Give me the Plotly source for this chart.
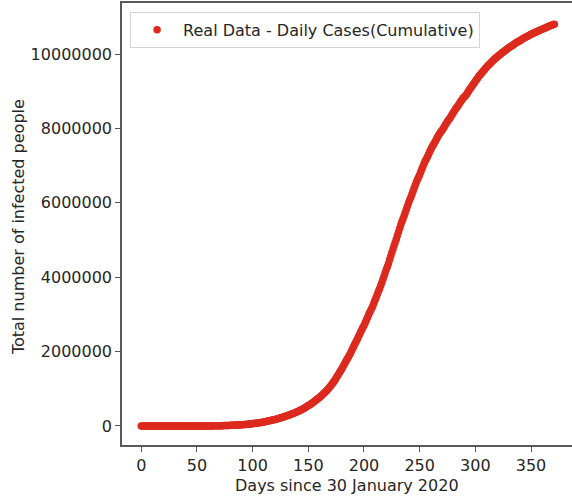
import plotly.graph_objects as go

# India: cumulative confirmed COVID-19 cases, one value per day from 30 Jan 2020
jan_2020 = [1, 1]
feb_2020 = [1, 2] + [3] * 27
mar_2020 = [3, 5, 6, 28, 30, 31, 34, 39, 48, 63, 71, 81, 91, 102, 112, 126, 146, 171, 198, 256,
            334, 403, 497, 571, 657, 730, 883, 1019, 1139, 1326, 1635]
apr_2020 = [2059, 2545, 3105, 3684, 4293, 4778, 5351, 5916, 6725, 7598, 8446, 9205, 10453, 11487,
            12322, 13430, 14352, 15722, 17615, 18539, 20080, 21370, 23077, 24530, 26283, 27890,
            29451, 31324, 33062, 34863]
may_2020 = [37257, 39699, 42505, 46437, 49400, 52987, 56351, 59662, 62939, 67152, 70756, 74281,
            78003, 81970, 85940, 90927, 95698, 100328, 106750, 112359, 118447, 124794, 131868,
            138845, 145380, 151767, 158333, 165799, 173763, 182143, 190535]
jun_2020 = [198706, 207615, 216919, 226770, 236657, 246628, 256611, 265928, 276583, 286579,
            297535, 308993, 320922, 332424, 343091, 354065, 366946, 380532, 395048, 410461,
            425282, 440215, 456183, 473105, 490401, 508953, 528859, 548318, 566840, 585493]
jul_2020 = [604641, 625544, 648315, 673165, 697413, 719665, 742417, 767296, 793802, 820916,
            849553, 878254, 906752, 936181, 968876, 1003832, 1038716, 1077618, 1118043, 1155191,
            1192915, 1238635, 1287945, 1336861, 1385522, 1435453, 1483156, 1531669, 1583792,
            1638870, 1695988]
aug_2020 = [1750723, 1803695, 1855745, 1908254, 1964536, 2027074, 2088611, 2153010, 2215074,
            2268675, 2329638, 2396637, 2461190, 2526192, 2589682, 2647663, 2702742, 2767273,
            2836925, 2905823, 2975701, 3044940, 3106348, 3167323, 3234474, 3310234, 3387500,
            3463972, 3542733, 3621245, 3691166]
sep_2020 = [3769523, 3853406, 3936747, 4023179, 4113811, 4204613, 4280422, 4370128, 4465863,
            4562414, 4659984, 4754356, 4846427, 4930236, 5020359, 5118253, 5214677, 5308014,
            5400619, 5487580, 5562663, 5646010, 5732518, 5818570, 5903932, 5992532, 6074702,
            6145291, 6225763, 6312584]
oct_2020 = [6394068, 6473544, 6549373, 6623815, 6685082, 6757131, 6835655, 6906151, 6979423,
            7053806, 7120538, 7175880, 7239389, 7307097, 7370468, 7432680, 7494551, 7550273,
            7597063, 7651107, 7706946, 7761312, 7814682, 7864811, 7909959, 7946429, 7990322,
            8040203, 8088851, 8137119, 8184082]
nov_2020 = [8229313, 8267623, 8313876, 8364086, 8411724, 8462080, 8507754, 8553657, 8591730,
            8636011, 8683916, 8728795, 8773479, 8814579, 8845127, 8874290, 8912907, 8958483,
            9004365, 9050597, 9095806, 9139865, 9177840, 9222216, 9266705, 9309787, 9351109,
            9392919, 9431691, 9462809]
dec_2020 = [9499413, 9534964, 9571559, 9608211, 9644222, 9677203, 9703770, 9735850, 9767371,
            9796769, 9826775, 9857029, 9884100, 9906165, 9932547, 9956557, 9979447, 10004599,
            10031223, 10055560, 10075116, 10099066, 10123778, 10146845, 10169118, 10187850,
            10207871, 10224303, 10244852, 10266674, 10286709]
jan_2021 = [10305788, 10323965, 10340469, 10356844, 10374932, 10395278, 10413417, 10432005,
            10450284, 10466595, 10479179, 10495147, 10512093, 10527683, 10542841, 10557985,
            10571773, 10581823, 10595660, 10610883, 10625428, 10639684, 10654533, 10667736,
            10676838, 10689527, 10701193, 10720048, 10733130, 10746183, 10757610]
feb_2021 = [10766245, 10777284, 10790183, 10802591]

total_cases = (jan_2020 + feb_2020 + mar_2020 + apr_2020 + may_2020 + jun_2020 + jul_2020
               + aug_2020 + sep_2020 + oct_2020 + nov_2020 + dec_2020 + jan_2021 + feb_2021)
days = list(range(len(total_cases)))

x_ticks = [0, 50, 100, 150, 200, 250, 300, 350]
y_ticks = [0, 2000000, 4000000, 6000000, 8000000, 10000000]

FONT = "DejaVu Sans"
RED = "#dd2a1e"
SPINE = "#5a5a5a"
TEXT = "#262626"

fig = go.Figure()
fig.add_trace(go.Scatter(
    x=days, y=total_cases, mode="markers",
    name="Real Data - Daily Cases(Cumulative)",
    marker=dict(color=RED, size=7.5, line=dict(width=0)),
))

axis_common = dict(
    showgrid=False, zeroline=False, showline=True, linecolor=SPINE, linewidth=1.5,
    ticks="outside", ticklen=5, tickwidth=1.2, tickcolor=SPINE,
    tickfont=dict(family=FONT, size=16, color=TEXT),
)

fig.update_layout(
    width=572, height=498,
    margin=dict(l=122, r=0, t=3, b=53),
    paper_bgcolor="white", plot_bgcolor="white",
    font=dict(family=FONT, size=16, color=TEXT),
    xaxis=dict(range=[-17.3, 386.8], tickvals=x_ticks, mirror=True, **axis_common),
    yaxis=dict(range=[-511000, 11371000], tickvals=y_ticks, tickformat="d", **axis_common),
    showlegend=True,
    legend=dict(
        x=0.018, y=0.98, xanchor="left", yanchor="top",
        bgcolor="white", bordercolor="#d4d4d4", borderwidth=1,
        font=dict(family=FONT, size=16, color=TEXT), itemwidth=42,
    ),
    annotations=[
        dict(text="Days since 30 January 2020", xref="paper", yref="paper",
             x=0.501, y=0, xanchor="center", yanchor="middle", yshift=-40,
             showarrow=False, font=dict(family=FONT, size=16, color=TEXT)),
        dict(text="Total number of infected people", xref="paper", yref="paper",
             x=0, y=0.493, xanchor="center", yanchor="middle", xshift=-104,
             textangle=-90, showarrow=False, font=dict(family=FONT, size=16, color=TEXT)),
    ],
)

fig.write_html("out.html")
